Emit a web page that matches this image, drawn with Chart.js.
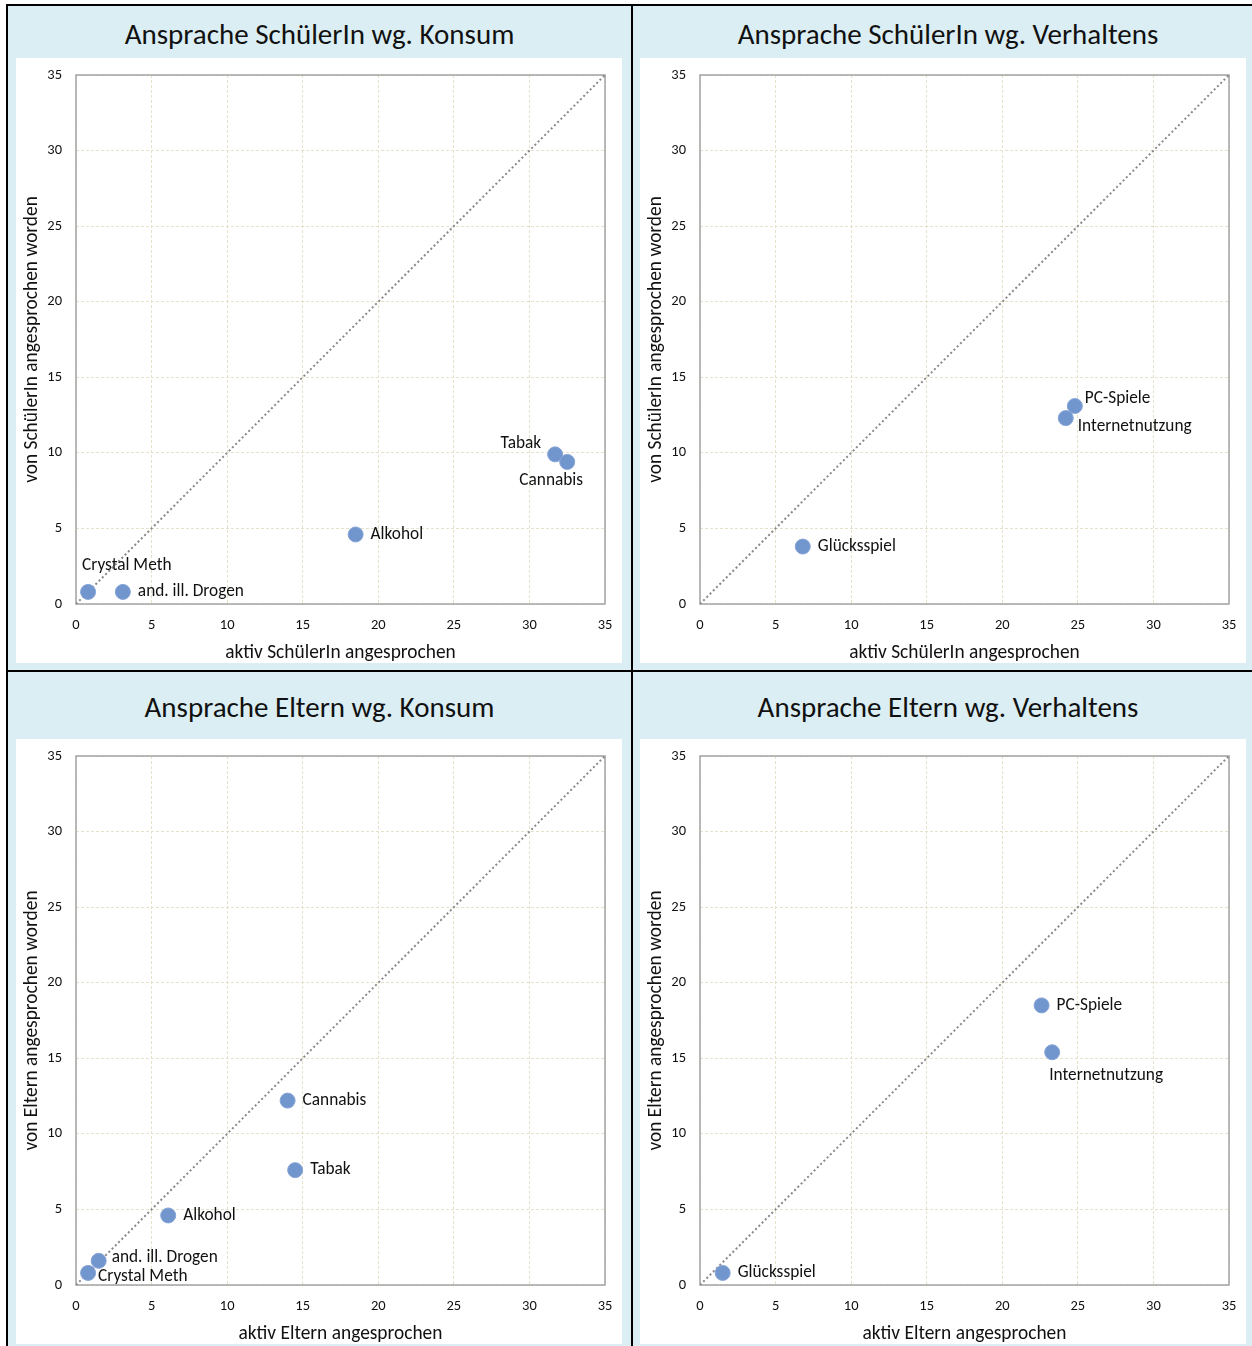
<!DOCTYPE html>
<html lang="de">
<head>
<meta charset="utf-8">
<title>Ansprache wg. Konsum und Verhalten</title>
<script src="https://cdn.jsdelivr.net/npm/chart.js@4/dist/chart.umd.min.js"></script>
<style>
  html, body { margin: 0; padding: 0; background: #ffffff; width: 1252px; height: 1346px; overflow: hidden; }
  #frame { position: absolute; left: 6px; top: 4px; width: 1260px; height: 1360px; background: #000; }
  .cell { position: absolute; background: #dbeef3; }
  .cell h2 {
    position: absolute; left: 0; right: 0; top: 0; margin: 0;
    font: 400 29px Carlito, Lato, sans-serif; color: #111;
    display: flex; align-items: center; justify-content: center;
  }
  .cell canvas { position: absolute; background: #ffffff; }
</style>
</head>
<body>
<div id="frame"></div>
<script>
// ---- Ansprache SchülerIn wg. Konsum
const skLabels = ['Crystal Meth', 'and. ill. Drogen', 'Alkohol', 'Tabak', 'Cannabis'];
const skAktiv  = [0.8, 3.1, 18.5, 31.7, 32.5];
const skVon    = [0.8, 0.8, 4.6, 9.9, 9.4];

// ---- Ansprache SchülerIn wg. Verhaltens
const svLabels = ['Glücksspiel', 'PC-Spiele', 'Internetnutzung'];
const svAktiv  = [6.8, 24.8, 24.2];
const svVon    = [3.8, 13.1, 12.3];

// ---- Ansprache Eltern wg. Konsum
const ekLabels = ['Crystal Meth', 'and. ill. Drogen', 'Alkohol', 'Tabak', 'Cannabis'];
const ekAktiv  = [0.8, 1.5, 6.1, 14.5, 14.0];
const ekVon    = [0.8, 1.6, 4.6, 7.6, 12.2];

// ---- Ansprache Eltern wg. Verhaltens
const evLabels = ['Glücksspiel', 'PC-Spiele', 'Internetnutzung'];
const evAktiv  = [1.5, 22.6, 23.3];
const evVon    = [0.8, 18.5, 15.4];

// axis range and ticks (shared by all four charts)
const axisMin = 0;
const axisMax = 35;
const tickStep = 5;

// where each point's label sits relative to the marker
const skPlace = ['aboveRight', 'right', 'right', 'leftUp', 'belowLeft'];
const svPlace = ['right', 'rightUp', 'rightDown'];
const ekPlace = ['rightSlightDown', 'rightSlightUp', 'right', 'right', 'right'];
const evPlace = ['right', 'right', 'belowRight'];

const PLACEMENTS = {
  right:           { dx: 15,  dy: 0,   align: 'left' },
  rightUp:         { dx: 10,  dy: -7,  align: 'left' },
  rightDown:       { dx: 12,  dy: 9,   align: 'left' },
  rightSlightUp:   { dx: 13,  dy: -3,  align: 'left' },
  rightSlightDown: { dx: 10,  dy: 4,   align: 'left' },
  leftUp:          { dx: -14, dy: -11, align: 'right' },
  belowLeft:       { dx: -16, dy: 19,  align: 'center' },
  aboveRight:      { dx: -6,  dy: -26, align: 'left' },
  belowRight:      { dx: -3,  dy: 23,  align: 'left' }
};

const FONT = 'Carlito, Lato, sans-serif';

// draws the point names next to the markers
const pointLabels = {
  id: 'pointLabels',
  afterDatasetsDraw(chart, args, opts) {
    const meta = chart.getDatasetMeta(0);
    const ctx = chart.ctx;
    ctx.save();
    ctx.font = '17.3px ' + FONT;
    ctx.fillStyle = '#111';
    ctx.textBaseline = 'middle';
    meta.data.forEach((pt, i) => {
      const p = PLACEMENTS[opts.place[i]] || PLACEMENTS.right;
      ctx.textAlign = p.align;
      ctx.fillText(opts.names[i], pt.x + p.dx, pt.y + p.dy);
    });
    ctx.restore();
  }
};

// grey frame around the plot area
const plotFrame = {
  id: 'plotFrame',
  beforeDatasetsDraw(chart) {
    const a = chart.chartArea;
    const ctx = chart.ctx;
    ctx.save();
    ctx.strokeStyle = '#a3a3a3';
    ctx.lineWidth = 1.5;
    ctx.strokeRect(a.left, a.top, a.right - a.left, a.bottom - a.top);
    ctx.restore();
  }
};

function axis(title, isY) {
  return {
    type: 'linear',
    min: axisMin,
    max: axisMax,
    afterFit(s) {
      if (isY) s.width = 60; else s.height = 59;
      // the plot area is set by layout.padding alone
      s.paddingTop = 0; s.paddingBottom = 0; s.paddingLeft = 0; s.paddingRight = 0;
    },
    ticks: {
      stepSize: tickStep,
      color: '#111',
      font: { family: FONT, size: 14.5 },
      padding: isY ? 14 : 13
    },
    grid: { color: '#e6e1cb', lineWidth: 1, drawTicks: false },
    border: { display: false, dash: [3, 2] },
    title: {
      display: true,
      text: title,
      color: '#111',
      font: { family: FONT, size: 19.4, lineHeight: 1.03 },
      padding: isY ? { top: 6, bottom: 0 } : { top: 0, bottom: 0 }
    }
  };
}

function makePanel(cfg) {
  const frame = document.getElementById('frame');
  const cell = document.createElement('div');
  cell.className = 'cell';
  cell.style.left = cfg.cell[0] + 'px';
  cell.style.top = cfg.cell[1] + 'px';
  cell.style.width = cfg.cell[2] + 'px';
  cell.style.height = cfg.cell[3] + 'px';
  const h = document.createElement('h2');
  h.textContent = cfg.title;
  h.style.height = cfg.titleBand + 'px';
  cell.appendChild(h);
  const cv = document.createElement('canvas');
  cv.width = 606;
  cv.height = 605;
  cv.style.left = cfg.canvasAt[0] + 'px';
  cv.style.top = cfg.canvasAt[1] + 'px';
  cell.appendChild(cv);
  frame.appendChild(cell);

  const pts = cfg.xs.map((x, i) => ({ x: x, y: cfg.ys[i] }));
  new Chart(cv, {
    type: 'scatter',
    data: {
      datasets: [
        {
          data: pts,
          order: 0,
          pointRadius: 7.5,
          pointHoverRadius: 7.5,
          pointBackgroundColor: '#7195cd',
          pointBorderColor: '#86a4d6',
          pointBorderWidth: 1
        },
        {
          type: 'line',
          data: [{ x: axisMin, y: axisMin }, { x: axisMax, y: axisMax }],
          order: 1,
          borderColor: '#8a8a8a',
          borderWidth: 2,
          borderDash: [2, 2.6],
          pointRadius: 0,
          fill: false
        }
      ]
    },
    options: {
      responsive: false,
      animation: false,
      events: [],
      layout: { padding: { left: 0, top: 17, right: 17, bottom: 0 } },
      plugins: {
        legend: { display: false },
        tooltip: { enabled: false },
        pointLabels: { names: cfg.names, place: cfg.place }
      },
      scales: {
        x: axis(cfg.xTitle, false),
        y: axis(cfg.yTitle, true)
      }
    },
    plugins: [plotFrame, pointLabels]
  });
}

makePanel({
  title: 'Ansprache SchülerIn wg. Konsum',
  cell: [2, 2, 623, 664], titleBand: 55, canvasAt: [8, 52],
  xs: skAktiv, ys: skVon, names: skLabels, place: skPlace,
  xTitle: 'aktiv SchülerIn angesprochen', yTitle: 'von SchülerIn angesprochen worden'
});
makePanel({
  title: 'Ansprache SchülerIn wg. Verhaltens',
  cell: [627, 2, 630, 664], titleBand: 55, canvasAt: [7, 52],
  xs: svAktiv, ys: svVon, names: svLabels, place: svPlace,
  xTitle: 'aktiv SchülerIn angesprochen', yTitle: 'von SchülerIn angesprochen worden'
});
makePanel({
  title: 'Ansprache Eltern wg. Konsum',
  cell: [2, 668, 623, 700], titleBand: 69, canvasAt: [8, 67],
  xs: ekAktiv, ys: ekVon, names: ekLabels, place: ekPlace,
  xTitle: 'aktiv Eltern angesprochen', yTitle: 'von Eltern angesprochen worden'
});
makePanel({
  title: 'Ansprache Eltern wg. Verhaltens',
  cell: [627, 668, 630, 700], titleBand: 69, canvasAt: [7, 67],
  xs: evAktiv, ys: evVon, names: evLabels, place: evPlace,
  xTitle: 'aktiv Eltern angesprochen', yTitle: 'von Eltern angesprochen worden'
});
</script>
</body>
</html>
